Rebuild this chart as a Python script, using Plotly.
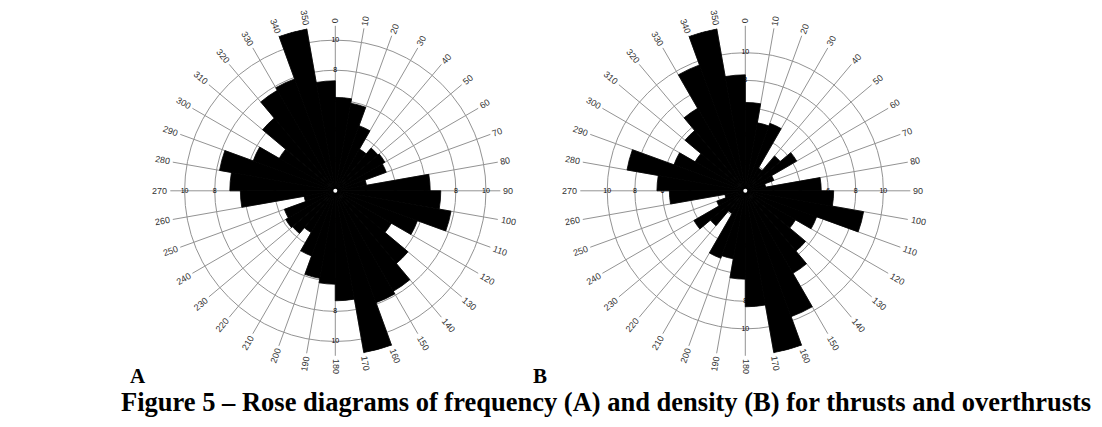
import math
import plotly.graph_objects as go

# ---------------- data ----------------
# 10-degree strike bins (start angle of each bin), clockwise from north
bin_start = list(range(0, 360, 10))
bin_width = 10

# Rose A: frequency of thrusts and overthrusts (axial data, each bin and its opposite)
freq_A = [6.2, 5.9, 4.6, 3.2, 3.7, 3.8, 3.6, 2.1, 6.3,
          7.0, 7.8, 5.8, 4.3, 6.3, 7.7, 7.9, 10.9, 7.3,
          6.2, 5.9, 4.6, 3.2, 3.7, 3.8, 3.6, 2.1, 6.3,
          7.0, 7.8, 5.8, 4.3, 6.3, 7.7, 7.9, 10.9, 7.3]

# Rose B: density of thrusts and overthrusts
dens_B = [6.4, 5.0, 5.2, 1.9, 3.3, 4.3, 2.2, 1.5, 5.5,
          6.4, 8.7, 5.5, 4.2, 5.7, 6.9, 9.7, 11.9, 8.4,
          6.4, 5.0, 5.2, 1.9, 3.3, 4.3, 2.2, 1.5, 5.5,
          6.4, 8.7, 5.5, 4.2, 5.7, 6.9, 9.7, 11.9, 8.4]

ring_values = [2, 4, 6, 8, 10]
ring_label_axes = [0, 90, 180, 270]
angle_ticks = list(range(0, 360, 10))
angle_labels = [str(a) for a in angle_ticks]

panel_letters = ["A", "B"]
caption = "Figure 5 \u2013 Rose diagrams of frequency (A) and density (B) for thrusts and overthrusts"

# ---------------- layout geometry ----------------
W, H = 1102, 427
R_PX = 165  # polar radius in px
panels = [
    dict(name="polar", values=freq_A, cx=335.3, cy=190.8, rmax=10.95),
    dict(name="polar2", values=dens_B, cx=745.3, cy=190.8, rmax=11.95),
]

GRID = "#939393"
theta_centers = [b + bin_width / 2 for b in bin_start]

fig = go.Figure()
annotations = []

for p in panels:
    sub = p["name"]
    fig.add_trace(go.Barpolar(
        r=p["values"], theta=theta_centers, width=[bin_width] * len(bin_start),
        marker=dict(color="black", line=dict(color="black", width=0.8)),
        subplot=sub, showlegend=False, hoverinfo="skip"))
    # ring labels on the four main axes (hidden where the black petals cover them)
    rr, tt, tx = [], [], []
    for a in ring_label_axes:
        for v in ring_values:
            rr.append(v)
            tt.append(a)
            tx.append(str(v))
    fig.add_trace(go.Scatterpolar(
        r=rr, theta=tt, text=tx, mode="text",
        textfont=dict(family="Liberation Sans", size=7, color="black"),
        subplot=sub, showlegend=False, hoverinfo="skip", cliponaxis=False))
    # centre dot
    fig.add_trace(go.Scatterpolar(
        r=[0], theta=[0], mode="markers",
        marker=dict(color="white", size=4, line=dict(width=0)),
        subplot=sub, showlegend=False, hoverinfo="skip"))

    # rotated angular labels (text follows the spoke direction)
    for a, lab in zip(angle_ticks, angle_labels):
        rc = R_PX + 2 + len(lab) * 2.8
        x = p["cx"] + rc * math.sin(math.radians(a))
        y = p["cy"] - rc * math.cos(math.radians(a))
        ang = a - 90 if a <= 180 else a - 270
        annotations.append(dict(
            x=x / W, y=1 - y / H, xref="paper", yref="paper",
            text=lab, showarrow=False, textangle=ang,
            xanchor="center", yanchor="middle",
            font=dict(family="Liberation Sans", size=9, color="#333")))

def polar_layout(p):
    x0 = (p["cx"] - R_PX) / W
    x1 = (p["cx"] + R_PX) / W
    y1 = 1 - (p["cy"] - R_PX) / H
    y0 = 1 - (p["cy"] + R_PX) / H
    return dict(
        domain=dict(x=[x0, x1], y=[y0, y1]),
        bgcolor="white",
        hole=0,
        radialaxis=dict(range=[0, p["rmax"]], tickvals=ring_values,
                        showticklabels=False, ticks="", showline=False,
                        showgrid=True, gridcolor=GRID, gridwidth=1,
                        layer="below traces"),
        angularaxis=dict(rotation=90, direction="clockwise",
                         tickvals=angle_ticks, showticklabels=False,
                         ticks="", showline=False, showgrid=True,
                         gridcolor=GRID, gridwidth=1,
                         layer="below traces"),
        barmode="overlay",
    )

for letter, xpx in zip(panel_letters, [138, 540]):
    annotations.append(dict(
        x=xpx / W, y=1 - 376 / H, xref="paper", yref="paper",
        text=f"<b>{letter}</b>", showarrow=False,
        xanchor="center", yanchor="middle",
        font=dict(family="Liberation Serif", size=21, color="black")))

annotations.append(dict(
    x=606 / W, y=1 - 402 / H, xref="paper", yref="paper",
    text=f"<b>{caption}</b>", showarrow=False,
    xanchor="center", yanchor="middle",
    font=dict(family="Liberation Serif", size=26.5, color="black")))

fig.update_layout(
    width=W, height=H,
    margin=dict(l=0, r=0, t=0, b=0),
    paper_bgcolor="white", plot_bgcolor="white",
    polar=polar_layout(panels[0]),
    polar2=polar_layout(panels[1]),
    annotations=annotations,
    showlegend=False,
)

fig.write_html("out.html")
